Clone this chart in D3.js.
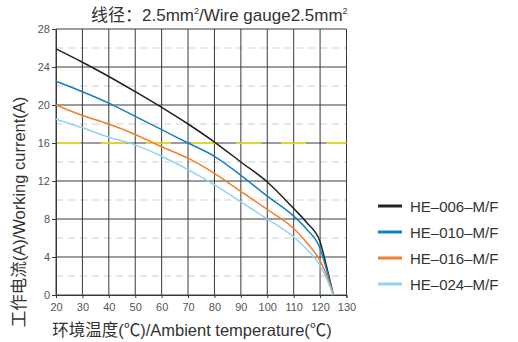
<!DOCTYPE html>
<html><head><meta charset="utf-8">
<script src="https://cdn.jsdelivr.net/npm/d3@7/dist/d3.min.js"></script>
<style>body{margin:0;background:#fff}svg{display:block}</style>
</head><body>
<svg id="c" width="518" height="342"></svg>
<script>
const temps = [20,30,40,50,60,70,80,90,100,110,115,120,122,125];
const seriesNames = ["HE–006–M/F","HE–010–M/F","HE–016–M/F","HE–024–M/F"];
const s006 = [25.9,24.5,23.0,21.4,19.75,18.0,16.1,14.0,11.9,9.1,7.6,5.6,3.5,0];
const s010 = [22.5,21.4,20.2,18.8,17.4,16.0,14.6,12.6,10.4,8.3,6.9,4.9,3.1,0];
const s016 = [20.0,18.9,18.0,16.9,15.6,14.4,12.8,10.9,9.0,7.0,5.5,3.6,2.4,0];
const s024 = [18.5,17.6,16.6,15.8,14.6,13.2,11.6,9.8,8.0,6.1,4.8,3.1,2.0,0];
const colors = ["#222222","#1380c4","#f37f27","#93d3ee"];
const xTicks = [20,30,40,50,60,70,80,90,100,110,120,130];
const yTicks = [0,4,8,12,16,20,24,28];
const yMinor = [2,6,10,14,18,22,26];
const refLine = 16;

const svg = d3.select("#c");
const font = "'Liberation Sans','Noto Sans CJK SC',sans-serif";
const x = d3.scaleLinear().domain([20,130]).range([56,346.5]);
const y = d3.scaleLinear().domain([0,28]).range([295,29]);

const g = svg.append("g");
g.selectAll(".minor").data(yMinor).join("line")
  .attr("x1",x(20)).attr("x2",x(130)).attr("y1",d=>y(d)).attr("y2",d=>y(d))
  .attr("stroke","#cfcfcf").attr("stroke-width",1).attr("stroke-dasharray","7,5");
g.selectAll(".major").data(yTicks).join("line")
  .attr("x1",x(20)).attr("x2",x(130)).attr("y1",d=>y(d)).attr("y2",d=>y(d))
  .attr("stroke","#3a3a3a").attr("stroke-width",1);
g.selectAll(".vert").data(xTicks).join("line")
  .attr("x1",d=>x(d)).attr("x2",d=>x(d)).attr("y1",y(0)).attr("y2",y(28))
  .attr("stroke","#3a3a3a").attr("stroke-width",1);
g.append("line").attr("x1",x(20)).attr("x2",x(130)).attr("y1",y(refLine)).attr("y2",y(refLine))
  .attr("stroke","#f7e51c").attr("stroke-width",1.6).attr("stroke-dasharray","25,20");

const ax = svg.append("g").attr("transform",`translate(0,${y(0)})`)
  .call(d3.axisBottom(x).tickValues(xTicks).tickSize(3).tickPadding(5));
const ay = svg.append("g").attr("transform",`translate(${x(20)},0)`)
  .call(d3.axisLeft(y).tickValues(yTicks).tickSize(4).tickPadding(2));
[ax,ay].forEach(a=>{
  a.select(".domain").attr("stroke","#3a3a3a");
  a.selectAll(".tick line").attr("stroke","#3a3a3a");
  a.selectAll("text").attr("font-family",font).attr("font-size",11).attr("fill","#555");
});

const seriesVals = [s006,s010,s016,s024];
const line = d3.line().x((d,i)=>x(temps[i])).y(d=>y(d)).curve(d3.curveMonotoneX);
seriesVals.forEach((vals,k)=>{
  svg.append("path").attr("d",line(vals)).attr("fill","none")
    .attr("stroke",colors[k]).attr("stroke-width",1.5);
});

const t = svg.append("text").attr("x",91).attr("y",21).attr("font-family",font)
  .attr("font-size",17).attr("fill","#333");
t.append("tspan").text("线径：2.5mm");
t.append("tspan").attr("font-size",9).attr("dy",-7).text("2");
t.append("tspan").attr("dy",7).text("/Wire gauge2.5mm");
t.append("tspan").attr("font-size",9).attr("dy",-7).text("2");

svg.append("text").attr("x",192).attr("y",336).attr("text-anchor","middle")
  .attr("font-family",font).attr("font-size",16.5).attr("fill","#333")
  .text("环境温度(℃)/Ambient temperature(℃)");
svg.append("text").attr("transform","translate(25,212) rotate(-90)").attr("text-anchor","middle")
  .attr("font-family",font).attr("font-size",16.5).attr("fill","#333")
  .text("工作电流(A)/Working current(A)");

const lg = svg.append("g");
seriesNames.forEach((n,k)=>{
  const yy = 206 + k*26;
  lg.append("line").attr("x1",378).attr("x2",402).attr("y1",yy).attr("y2",yy)
    .attr("stroke",colors[k]).attr("stroke-width",3);
  lg.append("text").attr("x",410).attr("y",yy+5.5).attr("font-family",font)
    .attr("font-size",15).attr("fill","#333").text(n);
});
</script>
</body></html>
